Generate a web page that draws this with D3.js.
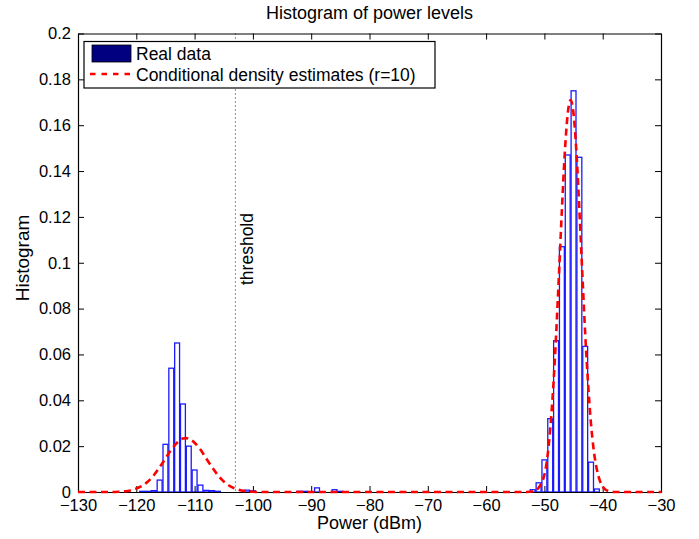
<!DOCTYPE html>
<html>
<head>
<meta charset="utf-8">
<title>Histogram of power levels</title>
<script type="text/javascript" src="https://d3js.org/d3.v7.min.js"></script>
<style>
  body { margin: 0; background: #fff; }
  text { font-family: "Liberation Sans", Arial, sans-serif; fill: #000; }
</style>
</head>
<body>
<script type="text/javascript">
// histogram bins (bin centre in dBm, relative frequency)
var binCenters = [-119, -118, -117, -116, -115, -114, -113, -112, -111, -110, -109, -108, -107, -106,
                  -101, -100, -92, -91, -89, -86, -85,
                  -52, -51, -50, -49, -48, -47, -46, -45, -44, -43, -42, -41]
var binValues  = [0.0003, 0.0003, 0.0006, 0.0052, 0.0208, 0.054, 0.065, 0.0384, 0.020, 0.0096, 0.003, 0.0007, 0.0006, 0.0003,
                  0.0008, 0.0005, 0.0003, 0.0003, 0.0018, 0.001, 0.0003,
                  0.001, 0.004, 0.014, 0.032, 0.066, 0.107, 0.147, 0.175, 0.146, 0.0635, 0.013, 0.0013]

// conditional density estimate (red dashed)
var densX = [-130, -124, -123, -122, -121, -120, -119, -118, -117, -116, -115, -114, -113, -112, -111.5, -111,
             -110, -109, -108, -107, -106, -105, -104, -103, -102, -101, -100, -99,
             -53, -52, -51.5, -51, -50.5, -50, -49.5, -49, -48.5, -48, -47.5, -47, -46.5, -46, -45.5,
             -45, -44.5, -44, -43.5, -43, -42.5, -42, -41.5, -41, -40.5, -40, -39.5, -39, -38, -30]
var densY = [0, 0, 0.0001, 0.0003, 0.0007, 0.0015, 0.0027, 0.0046, 0.0073, 0.0108, 0.0146, 0.0185, 0.0215, 0.0233, 0.0235, 0.0233,
             0.0215, 0.0185, 0.0146, 0.0108, 0.0073, 0.0046, 0.0027, 0.0015, 0.0007, 0.0003, 0.0001, 0,
             0, 0.0003, 0.0008, 0.0018, 0.0038, 0.0075, 0.015, 0.0275, 0.045, 0.068, 0.095, 0.123, 0.148, 0.165, 0.171,
             0.165, 0.148, 0.123, 0.0955, 0.069, 0.047, 0.0295, 0.0175, 0.0098, 0.005, 0.0023, 0.001, 0.0004, 0, 0]

var threshold = -103
var xTicks = [-130, -120, -110, -100, -90, -80, -70, -60, -50, -40, -30]
var yTicks = [0, 0.02, 0.04, 0.06, 0.08, 0.1, 0.12, 0.14, 0.16, 0.18, 0.2]

var W = 699, H = 539
var pL = 78, pT = 33.5, pR = 661, pB = 492

var svg = d3.select("body").append("svg").attr("width", W).attr("height", H)

var x = d3.scaleLinear().domain([-130, -30]).range([pL, pR])
var y = d3.scaleLinear().domain([0, 0.2]).range([pB, pT])

var binW = 1

// bars
svg.selectAll(".bar")
    .data(binCenters)
    .enter()
    .append("rect")
    .attr("x", function(d){ return x(d - binW * 0.42) })
    .attr("y", function(d, i){ return y(binValues[i]) })
    .attr("width", function(d){ return x(d + binW * 0.42) - x(d - binW * 0.42) })
    .attr("height", function(d, i){ return pB - y(binValues[i]) })
    .attr("fill", "#fff")
    .attr("stroke", "#1a1aff")
    .attr("stroke-width", 1.3)

// threshold line
svg.append("line")
    .attr("x1", x(threshold)).attr("x2", x(threshold))
    .attr("y1", pT).attr("y2", pB)
    .attr("stroke", "#222")
    .attr("stroke-width", 1)
    .attr("stroke-dasharray", "1,3")

svg.append("text")
    .attr("transform", "translate(" + (x(threshold) + 18) + "," + 285 + ") rotate(-90)")
    .attr("font-size", 17.5)
    .text("threshold")

// density curve
var line = d3.line()
    .x(function(d){ return x(d) })
    .y(function(d, i){ return y(densY[i]) })
    .curve(d3.curveMonotoneX)

// axes box + inward ticks
var tickLen = 6
var axB = svg.append("g").attr("transform", "translate(0," + pB + ")")
    .call(d3.axisBottom(x).tickValues(xTicks).tickSizeInner(-tickLen).tickSizeOuter(0).tickPadding(7)
        .tickFormat(function(d){ return d < 0 ? "\u2212" + Math.abs(d) : d }))
var axT = svg.append("g").attr("transform", "translate(0," + pT + ")")
    .call(d3.axisTop(x).tickValues(xTicks).tickSizeInner(-tickLen).tickSizeOuter(0).tickFormat(""))
var axL = svg.append("g").attr("transform", "translate(" + pL + ",0)")
    .call(d3.axisLeft(y).tickValues(yTicks).tickSizeInner(-tickLen).tickSizeOuter(0).tickPadding(7)
        .tickFormat(function(d){ return String(+d.toFixed(2)) }))
var axR = svg.append("g").attr("transform", "translate(" + pR + ",0)")
    .call(d3.axisRight(y).tickValues(yTicks).tickSizeInner(-tickLen).tickSizeOuter(0).tickFormat(""))

;[axB, axT, axL, axR].forEach(function(a){
    a.selectAll("path").attr("stroke", "#000").attr("stroke-width", 1.2)
    a.selectAll("line").attr("stroke", "#000").attr("stroke-width", 1)
    a.selectAll("text").attr("font-size", 16.5).attr("font-family", "Liberation Sans, Arial, sans-serif").attr("fill", "#000")
})
axB.selectAll("text").attr("dy", "0.75em")

// dashed curve drawn over the axis, like the reference (zero stretches lie on the x axis)
svg.append("path")
    .datum(densX)
    .attr("d", line)
    .attr("fill", "none")
    .attr("stroke", "#ff0000")
    .attr("stroke-width", 2.6)
    .attr("stroke-dasharray", "7,4.5")

// title and labels
svg.append("text")
    .attr("x", (pL + pR) / 2).attr("y", 19)
    .attr("text-anchor", "middle").attr("font-size", 18)
    .text("Histogram of power levels")

svg.append("text")
    .attr("x", (pL + pR) / 2).attr("y", 529)
    .attr("text-anchor", "middle").attr("font-size", 18)
    .text("Power (dBm)")

svg.append("text")
    .attr("transform", "translate(29," + 258 + ") rotate(-90)")
    .attr("text-anchor", "middle").attr("font-size", 19)
    .text("Histogram")

// legend
var lg = svg.append("g")
lg.append("rect")
    .attr("x", 84).attr("y", 41.5).attr("width", 351).attr("height", 46.5)
    .attr("fill", "#fff").attr("stroke", "#000").attr("stroke-width", 1.2)
lg.append("rect")
    .attr("x", 92).attr("y", 45).attr("width", 39).attr("height", 17)
    .attr("fill", "#000080").attr("stroke", "#000").attr("stroke-width", 0.8)
lg.append("line")
    .attr("x1", 90).attr("x2", 132).attr("y1", 74).attr("y2", 74)
    .attr("stroke", "#ff0000").attr("stroke-width", 2.6).attr("stroke-dasharray", "5.5,6")
lg.append("text").attr("x", 136).attr("y", 60).attr("font-size", 17.5).text("Real data")
lg.append("text").attr("x", 136).attr("y", 80.5).attr("font-size", 17.5).text("Conditional density estimates (r=10)")
</script>
</body>
</html>
